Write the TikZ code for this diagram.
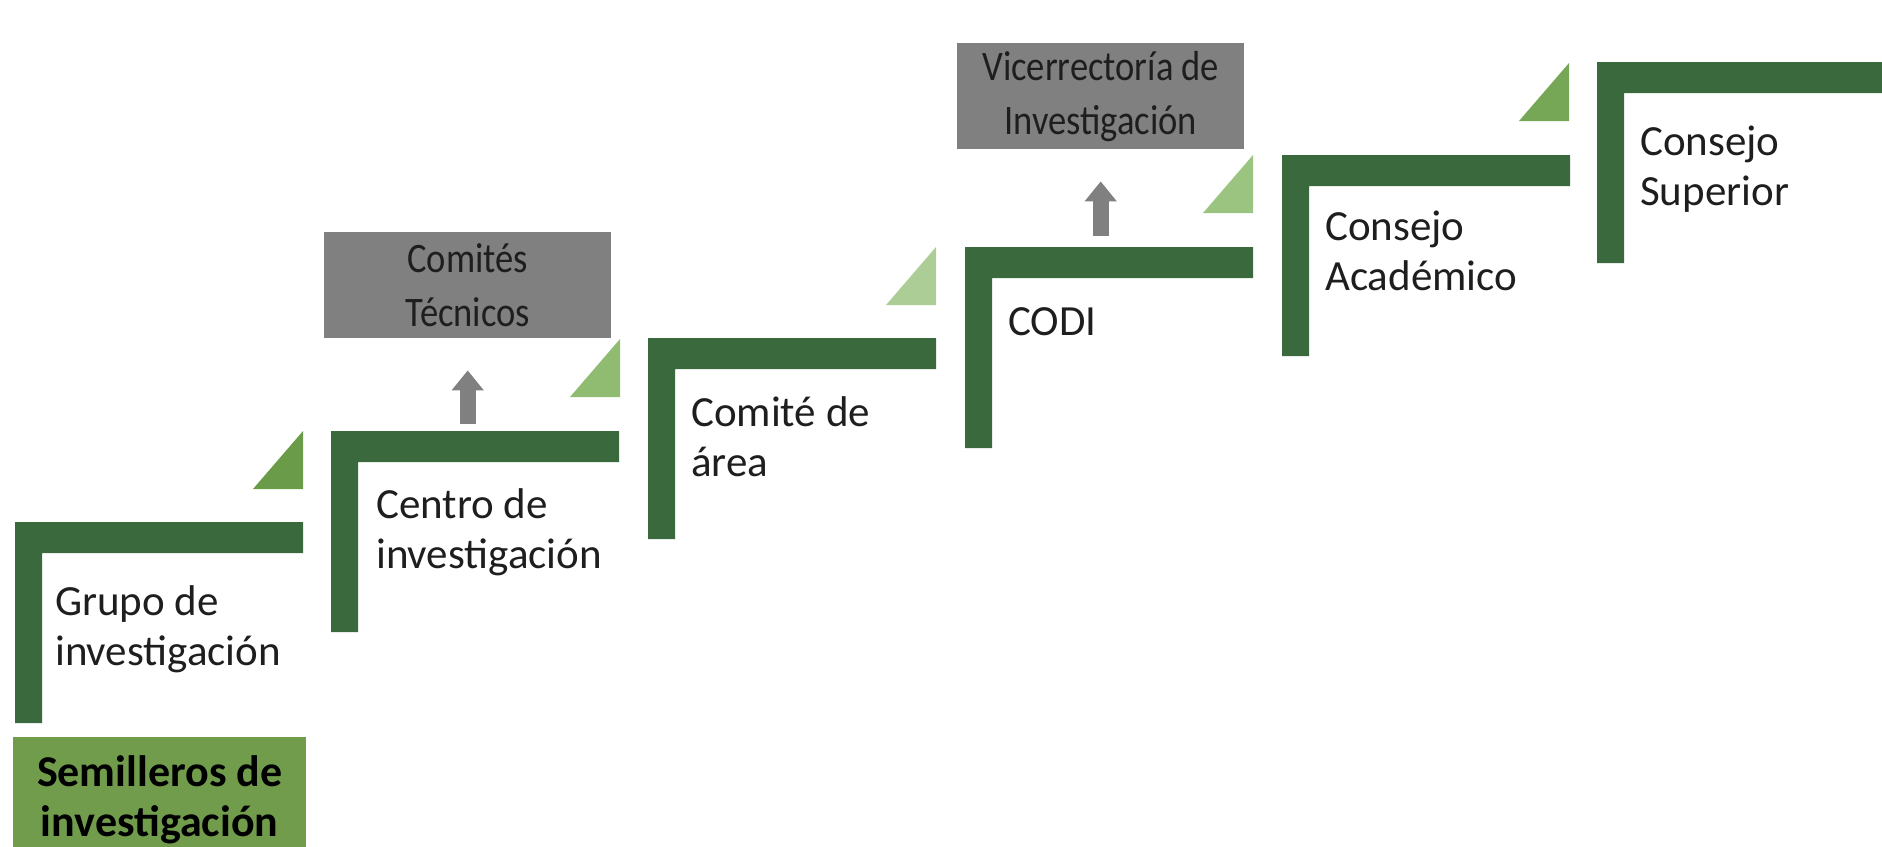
\documentclass[tikz,border=0pt]{standalone}
\usepackage{fontspec}
\setmainfont{Carlito}
\newfontfamily\boxfont[FakeStretch=0.87]{Carlito}
\usetikzlibrary{arrows.meta,calc}
\definecolor{stairgreen}{RGB}{59,105,62}
\definecolor{seedgreen}{RGB}{112,156,76}
\definecolor{wedgeA}{RGB}{106,155,72}
\definecolor{wedgeB}{RGB}{143,188,112}
\definecolor{wedgeC}{RGB}{172,205,150}
\definecolor{wedgeD}{RGB}{155,196,128}
\definecolor{wedgeE}{RGB}{118,167,86}
\definecolor{officegray}{RGB}{128,128,128}
\definecolor{inkgray}{RGB}{30,30,30}

\begin{document}
\begin{tikzpicture}[
    x=1pt, y=-1pt,
    stair/.style={fill=stairgreen},
    label/.style={anchor=base west, align=left, inner sep=0pt, text=inkgray, font=\fontsize{43}{50}\selectfont},
    office/.style={anchor=north west, fill=officegray, minimum width=287pt, minimum height=106pt, inner sep=0pt, align=center, text=inkgray, font=\boxfont\fontsize{42}{54}\selectfont},
    seed/.style={anchor=north west, fill=seedgreen, minimum width=293pt, minimum height=126pt, inner sep=0pt, align=center, text=black, font=\bfseries\fontsize{44}{50}\selectfont},
    arrow/.style={draw=officegray, line width=16pt, -{Triangle[width=31pt,length=20pt]}}
]
\useasboundingbox (0,0) rectangle (1882,846);

% corners of the steps
\coordinate (s1) at (15,522);
\coordinate (s2) at (331,431);
\coordinate (s3) at (648,338);
\coordinate (s4) at (965,247);
\coordinate (s5) at (1282,155);
\coordinate (s6) at (1597,62);

\fill[stair] (s1) rectangle ++(288,31) (s1) rectangle ++(27,201);
\fill[stair] (s2) rectangle ++(288,31) (s2) rectangle ++(27,201);
\fill[stair] (s3) rectangle ++(288,31) (s3) rectangle ++(27,201);
\fill[stair] (s4) rectangle ++(288,31) (s4) rectangle ++(27,201);
\fill[stair] (s5) rectangle ++(288,31) (s5) rectangle ++(27,201);
\fill[stair] (s6) rectangle (1882,93) (s6) rectangle ++(27,201);

% wedges
\fill[wedgeA] (303,431) -- ++(0,58) -- ++(-50,0) -- cycle;
\fill[wedgeB] (620,339) -- ++(0,58) -- ++(-50,0) -- cycle;
\fill[wedgeC] (936,247) -- ++(0,58) -- ++(-50,0) -- cycle;
\fill[wedgeD] (1253,155) -- ++(0,58) -- ++(-50,0) -- cycle;
\fill[wedgeE] (1569,63) -- ++(0,58) -- ++(-50,0) -- cycle;

\node[seed] (semilleros) at (13,737) {Semilleros de\\investigación};

% labels sit on the baseline of their last line
\node[label] (grupo) at (55,665) {Grupo de\\investigación};
\node[label] (centro) at (376,568) {Centro de\\investigación};
\node[label] (comite) at (691,476) {Comité de\\área};
\node[label] (codi) at (1008,335) {CODI};
\node[label] (academico) at (1325,290) {Consejo\\Académico};
\node[label] (superior) at (1640,205) {Consejo\\Superior};

\node[office] (comites) at (324,232) {Comités\\Técnicos};
\node[office] (vice) at (957,43) {Vicerrectoría de\\Investigación};

\draw[arrow, shorten <=7pt, shorten >=32pt] (comites.south |- s2) -- (comites.south);
\draw[arrow, shorten <=11pt, shorten >=32pt] (vice.south |- s4) -- (vice.south);

\end{tikzpicture}
\end{document}
